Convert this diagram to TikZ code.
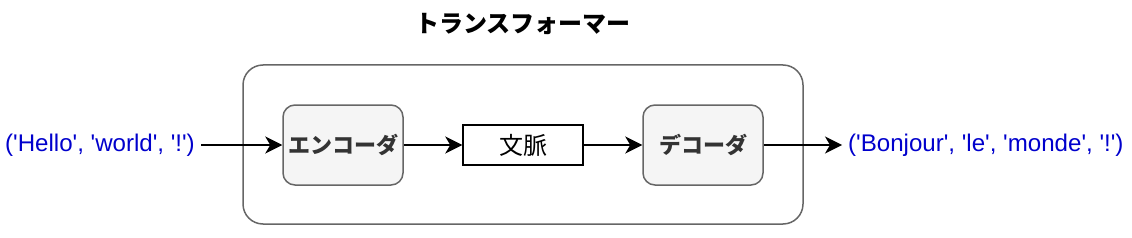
\documentclass[tikz,border=0pt]{standalone}
\usepackage{fontspec}
\setmainfont{Liberation Sans}[Ligatures=TeXOff]
\newfontfamily\cjk{Noto Sans CJK JP}
\usetikzlibrary{positioning,arrows.meta}

\definecolor{boxgray}{HTML}{F5F5F5}
\definecolor{linegray}{HTML}{666666}
\definecolor{txtgray}{HTML}{333333}
\definecolor{seqblue}{HTML}{0000CC}

\begin{document}
\begin{tikzpicture}[x=1pt, y=-1pt,
  flow/.style={line width=1.5pt, -{Stealth[length=17pt, width=17pt, inset=5pt]}},
  stage/.style={draw=linegray, fill=boxgray, line width=1.5pt, rounded corners=12pt,
    minimum width=120pt, minimum height=80pt, text=txtgray,
    font=\cjk\bfseries\fontsize{22}{26}\selectfont},
  seq/.style={text=seqblue, inner sep=6pt, font=\fontsize{24.1}{28}\selectfont}]
  \useasboundingbox (0,0) rectangle (1132,238);

  % Transformer frame
  \draw[linegray, line width=1.5pt, rounded corners=20pt] (243,65) rectangle (803,224);
  \node[font=\cjk\bfseries\fontsize{24}{28}\selectfont] (title) at (523,24) {トランスフォーマー};

  % Encoder, context, decoder
  \node[stage] (enc) at (343,145) {エンコーダ};
  \node[draw, line width=1.5pt, minimum width=120pt, minimum height=40pt,
    font=\cjk\fontsize{24}{28}\selectfont] (ctx) at (523,145) {文脈};
  \node[stage] (dec) at (703,145) {デコーダ};

  % Input and output sequences
  \node[seq, anchor=east] (src) at (201,145) {('Hello', 'world', '!')};
  \node[seq, anchor=west] (tgt) at (842,145) {('Bonjour', 'le', 'monde', '!')};

  % Arrows
  \draw[flow] (src) -- (enc);
  \draw[flow] (enc) -- (ctx);
  \draw[flow] (ctx) -- (dec);
  \draw[flow] (dec) -- (tgt);
\end{tikzpicture}
\end{document}
